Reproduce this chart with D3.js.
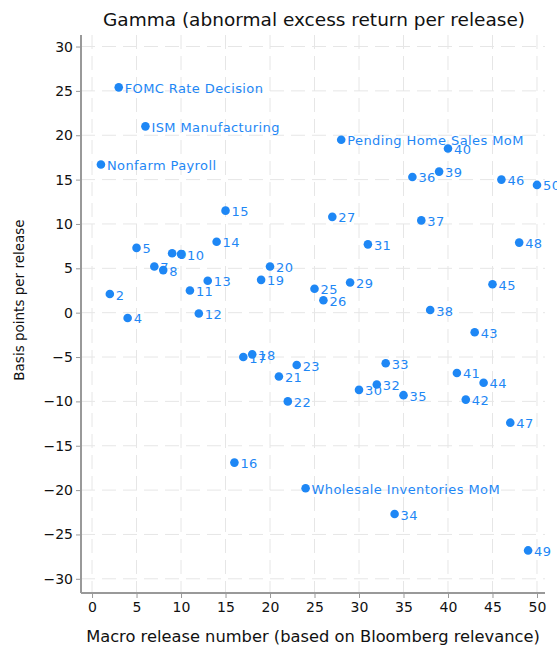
<!DOCTYPE html>
<html>
<head>
<meta charset="utf-8">
<script src="https://cdn.jsdelivr.net/npm/d3@7"></script>
<style>
  body { margin: 0; background: #fff; }
  text { font-family: "DejaVu Sans", sans-serif; }
</style>
</head>
<body>
<div id="chart"></div>
<script>
var width = 557, height = 650;

// release numbers 1..50 and their gamma (bp per release)
var releases = d3.range(1, 51);
var gamma = [16.7, 2.1, 25.4, -0.6, 7.3, 21.0, 5.2, 4.8, 6.7, 6.6,
             2.5, -0.1, 3.6, 8.0, 11.5, -16.9, -5.0, -4.7, 3.7, 5.2,
             -7.2, -10.0, -5.9, -19.8, 2.7, 1.4, 10.8, 19.5, 3.4, -8.7,
             7.7, -8.1, -5.7, -22.7, -9.3, 15.3, 10.4, 0.3, 15.9, 18.5,
             -6.8, -9.8, -2.2, -7.9, 3.2, 15.0, -12.4, 7.9, -26.8, 14.4];
var namedReleases = {1: "Nonfarm Payroll", 3: "FOMC Rate Decision", 6: "ISM Manufacturing",
                     24: "Wholesale Inventories MoM", 28: "Pending Home Sales MoM"};
var xTicks = d3.range(0, 51, 5);
var yTicks = d3.range(-30, 31, 5);

var margin = {top: 35, right: 12, bottom: 57, left: 81};

var x = d3.scaleLinear().domain([-1.24, 50.9]).range([margin.left, width - margin.right]);
var y = d3.scaleLinear().domain([-31.6, 31.3]).range([height - margin.bottom, margin.top]);

var svg = d3.select("#chart").append("svg")
    .attr("width", width)
    .attr("height", height);

// grid
svg.append("g").selectAll("line")
    .data(yTicks)
    .enter().append("line")
    .attr("x1", margin.left).attr("x2", width - margin.right)
    .attr("y1", d => y(d)).attr("y2", d => y(d))
    .attr("stroke", "#e6e6e6").attr("stroke-dasharray", "14,7");
svg.append("g").selectAll("line")
    .data(xTicks)
    .enter().append("line")
    .attr("y1", margin.top).attr("y2", height - margin.bottom)
    .attr("x1", d => x(d)).attr("x2", d => x(d))
    .attr("stroke", "#e6e6e6").attr("stroke-dasharray", "14,7");

var xAxis = svg.append("g")
    .attr("transform", "translate(0," + (height - margin.bottom) + ")")
    .call(d3.axisBottom(x).tickValues(xTicks).tickSize(5).tickPadding(4));
var yAxis = svg.append("g")
    .attr("transform", "translate(" + margin.left + ",0)")
    .call(d3.axisLeft(y).tickValues(yTicks).tickSize(5).tickPadding(3));

[xAxis, yAxis].forEach(function (ax) {
    ax.select(".domain").attr("stroke", "#999").attr("stroke-width", 2);
    ax.selectAll(".tick line").attr("stroke", "#999");
    ax.selectAll(".tick text").attr("font-size", 14).attr("fill", "#111")
        .style("font-family", "DejaVu Sans");
});
// domain paths include outer ticks; redraw plain
xAxis.select(".domain").attr("d", "M" + margin.left + ",0H" + (width - margin.right));
yAxis.select(".domain").attr("d", "M0," + margin.top + "V" + (height - margin.bottom));

// points
var pts = svg.append("g").selectAll("g")
    .data(releases)
    .enter().append("g");
pts.append("circle")
    .attr("cx", d => x(d))
    .attr("cy", (d, i) => y(gamma[i]))
    .attr("r", 4.3)
    .attr("fill", "#1e87f5");
pts.append("text")
    .attr("x", d => x(d) + 6)
    .attr("y", (d, i) => y(gamma[i]) + 5.5)
    .attr("font-size", 13)
    .attr("letter-spacing", 0.4)
    .attr("fill", "#1e87f5")
    .text(d => namedReleases[d] || d);

svg.append("text")
    .attr("x", 314).attr("y", 26)
    .attr("text-anchor", "middle")
    .attr("font-size", 18.5).attr("fill", "#111")
    .text("Gamma (abnormal excess return per release)");

svg.append("text")
    .attr("x", 313).attr("y", 642)
    .attr("text-anchor", "middle")
    .attr("font-size", 16.3).attr("fill", "#111")
    .text("Macro release number (based on Bloomberg relevance)");

svg.append("text")
    .attr("transform", "translate(24,300) rotate(-90)")
    .attr("text-anchor", "middle")
    .attr("font-size", 13.5).attr("fill", "#111")
    .text("Basis points per release");
</script>
</body>
</html>
